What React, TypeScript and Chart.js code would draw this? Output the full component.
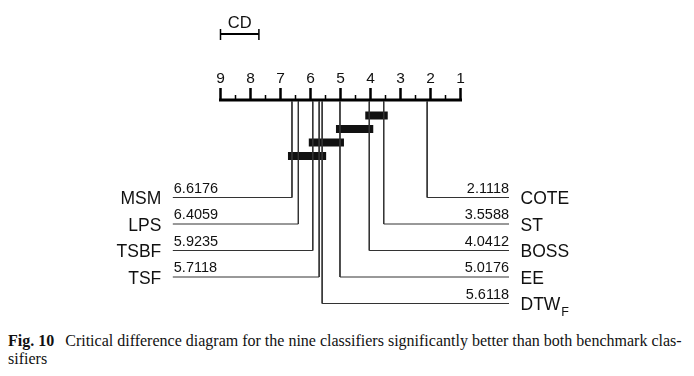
import React, { useEffect, useRef } from 'react';
import { Chart, registerables } from 'chart.js';
Chart.register(...registerables);

// ---- data ----
const rightNames = ['COTE', 'ST', 'BOSS', 'EE', 'DTW'];
const rightRanks = [2.1118, 3.5588, 4.0412, 5.0176, 5.6118];
const leftNames = ['MSM', 'LPS', 'TSBF', 'TSF'];
const leftRanks = [6.6176, 6.4059, 5.9235, 5.7118];
const rightSubs = ['', '', '', '', 'F'];
// cliques (groups not significantly different): [from rank, to rank]
const cliqueFrom = [4.0412, 5.0176, 5.9235, 6.6176];
const cliqueTo = [3.5588, 4.0412, 5.0176, 5.6118];
const cdValue = 1.28;
const tickLabels = [9, 8, 7, 6, 5, 4, 3, 2, 1];
const minorTicks = [8.5, 7.5, 6.5, 5.5, 4.5, 3.5, 2.5, 1.5];

// ---- layout (page px) ----
const CANVAS_W = 678;
const CANVAS_H = 320;
const PAGE_OFF = 8;
const Y_AXIS = 100;
const Y_MAJOR_TOP = 88;
const Y_MINOR_TOP = 95;
const Y_TICKLABEL = 83;
const Y_CD_BAR = 34;
const Y_CD_TOP = 29;
const Y_CD_BOT = 40;
const Y_CD_LABEL = 28;
const Y_BAR0 = 115.5;
const BAR_STEP = 13.5;
const Y_ROW0 = 197.5;
const ROW_STEP = 26.5;
const LEFT_EDGE_RANK = 10.59;
const RIGHT_EDGE_RANK = -0.617;

const seg = (pts: { x: number; y: number }[], width: number, color = '#000', cap: CanvasLineCap = 'butt') => ({
  data: pts,
  showLine: true,
  borderColor: color,
  borderWidth: width,
  borderCapStyle: cap,
  pointRadius: 0,
  pointHoverRadius: 0,
  tension: 0,
  clip: false as any,
});

export default function App() {
  const ref = useRef<HTMLCanvasElement>(null);
  useEffect(() => {
    if (!ref.current) return;
    const datasets: any[] = [];
    // axis line
    datasets.push(seg([{ x: 9, y: Y_AXIS }, { x: 1, y: Y_AXIS }], 3, '#000', 'square'));
    tickLabels.forEach((t) => datasets.push(seg([{ x: t, y: Y_MAJOR_TOP }, { x: t, y: Y_AXIS }], 2.5)));
    minorTicks.forEach((t) => datasets.push(seg([{ x: t, y: Y_MINOR_TOP }, { x: t, y: Y_AXIS }], 1.5)));
    // CD bar
    datasets.push(seg([{ x: 9, y: Y_CD_BAR }, { x: 9 - cdValue, y: Y_CD_BAR }], 2));
    datasets.push(seg([{ x: 9, y: Y_CD_TOP }, { x: 9, y: Y_CD_BOT }], 1.5));
    datasets.push(seg([{ x: 9 - cdValue, y: Y_CD_TOP }, { x: 9 - cdValue, y: Y_CD_BOT }], 1.5));
    // classifier lines
    rightRanks.forEach((r, i) => {
      const y = Y_ROW0 + i * ROW_STEP;
      datasets.push(seg([{ x: r, y: Y_AXIS + 1.5 }, { x: r, y }, { x: RIGHT_EDGE_RANK, y }], 1, '#333'));
    });
    leftRanks.forEach((r, i) => {
      const y = Y_ROW0 + i * ROW_STEP;
      datasets.push(seg([{ x: r, y: Y_AXIS + 1.5 }, { x: r, y }, { x: LEFT_EDGE_RANK, y }], 1, '#333'));
    });
    // clique bars
    cliqueFrom.forEach((a, i) => {
      const y = Y_BAR0 + i * BAR_STEP;
      datasets.push(seg([{ x: a, y }, { x: cliqueTo[i], y }], 8, '#111', 'square'));
    });

    const textPlugin = {
      id: 'cdText',
      afterDatasetsDraw(chart: any) {
        const ctx = chart.ctx as CanvasRenderingContext2D;
        const xs = chart.scales.x;
        const ys = chart.scales.y;
        const X = (v: number) => xs.getPixelForValue(v);
        const Yp = (v: number) => ys.getPixelForValue(v);
        ctx.save();
        ctx.fillStyle = '#111';
        // tick labels
        ctx.font = '15.5px "Liberation Sans", Arial, sans-serif';
        ctx.textAlign = 'center';
        ctx.textBaseline = 'alphabetic';
        tickLabels.forEach((t) => ctx.fillText(String(t), X(t), Yp(Y_TICKLABEL)));
        // CD label
        ctx.font = '16.5px "Liberation Sans", Arial, sans-serif';
        ctx.fillText('CD', (X(9) + X(9 - cdValue)) / 2, Yp(Y_CD_LABEL));
        // values
        ctx.font = '14.5px "Liberation Sans", Arial, sans-serif';
        ctx.textAlign = 'right';
        rightRanks.forEach((r, i) => ctx.fillText(r.toFixed(4), X(RIGHT_EDGE_RANK), Yp(Y_ROW0 + i * ROW_STEP - 5)));
        ctx.textAlign = 'left';
        leftRanks.forEach((r, i) => ctx.fillText(r.toFixed(4), X(LEFT_EDGE_RANK) + 1, Yp(Y_ROW0 + i * ROW_STEP - 5)));
        // names
        ctx.textAlign = 'left';
        rightNames.forEach((n, i) => {
          const x0 = X(RIGHT_EDGE_RANK) + 11.5;
          const y0 = Yp(Y_ROW0 + i * ROW_STEP + 6.5);
          ctx.font = '17.5px "Liberation Sans", Arial, sans-serif';
          ctx.fillText(n, x0, y0);
          if (rightSubs[i]) {
            const w = ctx.measureText(n).width;
            ctx.font = '12.5px "Liberation Sans", Arial, sans-serif';
            ctx.fillText(rightSubs[i], x0 + w + 1, y0 + 6);
          }
        });
        ctx.font = '17.5px "Liberation Sans", Arial, sans-serif';
        ctx.textAlign = 'right';
        leftNames.forEach((n, i) => ctx.fillText(n, X(LEFT_EDGE_RANK) - 11.5, Yp(Y_ROW0 + i * ROW_STEP + 6.5)));
        ctx.restore();
      },
    };

    const padLeft = 220.5 - PAGE_OFF;
    const padRight = CANVAS_W - (460.5 - PAGE_OFF);
    const chart = new Chart(ref.current, {
      type: 'scatter',
      data: { datasets },
      options: {
        responsive: false,
        animation: false,
        events: [],
        layout: { padding: { left: padLeft, right: padRight, top: 0, bottom: 0 } },
        plugins: { legend: { display: false }, tooltip: { enabled: false } },
        scales: {
          x: { type: 'linear', min: 1, max: 9, reverse: true, display: false },
          y: { type: 'linear', min: PAGE_OFF, max: PAGE_OFF + CANVAS_H, reverse: true, display: false },
        },
      },
      plugins: [textPlugin],
    });
    return () => chart.destroy();
  }, []);

  return (
    <div>
      <canvas ref={ref} width={CANVAS_W} height={CANVAS_H} style={{ display: 'block', width: CANVAS_W, height: CANVAS_H }} />
      <div
        style={{
          fontFamily: '"Liberation Serif", "Times New Roman", serif',
          fontSize: 16,
          lineHeight: '18px',
          marginTop: 4,
          color: '#111',
          whiteSpace: 'nowrap',
        }}
      >
        <b>Fig. 10</b>
        <span style={{ marginLeft: 11 }}>
          Critical difference diagram for the nine classifiers significantly better than both benchmark clas-
        </span>
        <br />
        sifiers
      </div>
    </div>
  );
}
